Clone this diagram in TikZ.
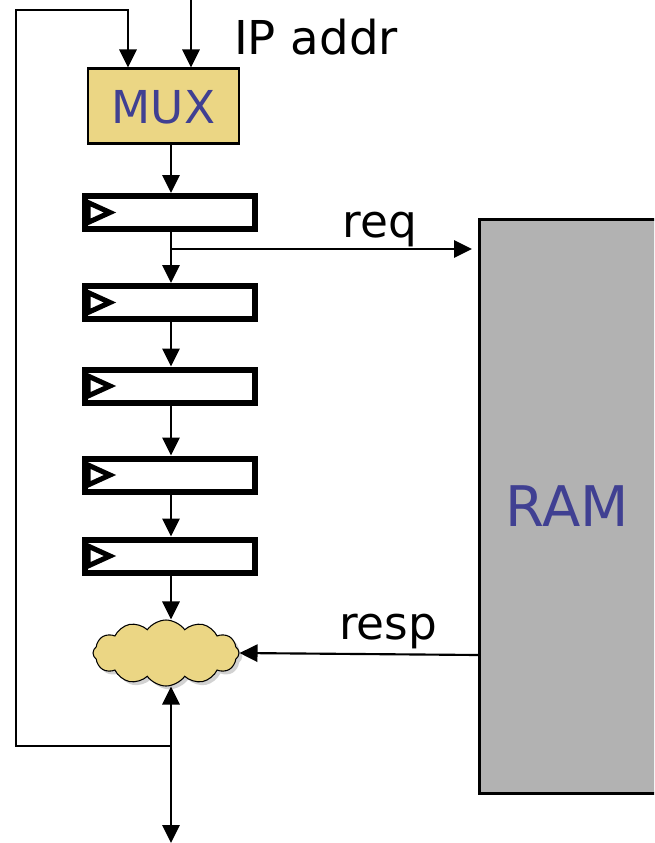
\documentclass[tikz,border=0pt]{standalone}
\usepackage{fontspec}
\setmainfont{DejaVu Sans}
\usetikzlibrary{arrows.meta,shapes.symbols,shadows}
\definecolor{muxfill}{RGB}{235,214,132}
\definecolor{txtblue}{RGB}{64,64,146}
\definecolor{ramfill}{RGB}{178,178,178}
\tikzset{
  tip/.tip={Triangle[length=13.5pt,width=13pt]},
  conn/.style={line width=1.6pt,-tip},
  regbox/.style={draw,line width=4.5pt,fill=white,minimum width=127.5pt,minimum height=24.75pt,inner sep=0pt},
  clk/.style={line width=3.8pt,line join=miter},
  lbl/.style={font=\fontsize{34}{40}\selectfont,anchor=base,inner sep=0pt}
}
\begin{document}
\begin{tikzpicture}[x=0.75pt,y=-0.75pt]
\clip (0,0) rectangle (654,843);
\fill[white] (0,0) rectangle (654,843);
% MUX
\node[draw,line width=1.6pt,fill=muxfill,minimum width=113.25pt,minimum height=56.25pt,inner sep=0pt] (mux) at (163.5,106) {};
\node[lbl,text=txtblue] (muxt) at (163.5,123) {MUX};
% IP addr
\node[lbl,font=\fontsize{35}{40}\selectfont] (ip) at (316,54) {IP addr};
\coordinate (iptop) at (191,0);
\coordinate (fbtl) at (16,10);
\coordinate (fbtr) at (128,10);
\coordinate (fbbl) at (16,746);
\coordinate (fbbr) at (171,746);
% registers
\foreach \i/\y in {1/212.5,2/302.5,3/386,4/475,5/556}{
  \node[regbox] (r\i) at (170,\y) {};
  \draw[clk] (88,\y-10) -- (110,\y) -- (88,\y+10) -- cycle;
}
% RAM
\node[draw,line width=2.2pt,fill=ramfill,minimum width=139.5pt,minimum height=430.5pt,inner sep=0pt,anchor=north west] (ram) at (478,218) {};
\node[font=\fontsize{42}{48}\selectfont,text=txtblue,anchor=base,inner sep=0pt] (ramt) at (567,526) {RAM};
% cloud
\node[cloud,draw,line width=0.8pt,fill=muxfill,cloud puffs=12,cloud puff arc=110,aspect=2.3,minimum width=109.5pt,minimum height=49.5pt,inner sep=0pt,drop shadow={shadow xshift=2.5pt,shadow yshift=-2.5pt,fill=gray!70}] (cl) at (166,653) {};
% connectors
\draw[conn] (fbbr) -- (fbbl) -- (fbtl) -- (fbtr) -- (mux.north -| fbtr);
\draw[conn] (iptop) -- (mux.north -| iptop);
\draw[conn] (mux.south -| 171,0) -- (r1.north -| 171,0);
\draw[conn] (r1.south -| 171,0) -- (r2.north -| 171,0);
\draw[conn] (r2.south -| 171,0) -- (r3.north -| 171,0);
\draw[conn] (r3.south -| 171,0) -- (r4.north -| 171,0);
\draw[conn] (r4.south -| 171,0) -- (r5.north -| 171,0);
\draw[conn] (r5.south -| 171,0) -- (cl.north -| 171,0);
\coordinate (reqs) at (171,249);
\draw[conn,shorten >=4.5pt] (reqs) -- (ram.west |- reqs);
\node[lbl] (req) at (380,237) {req};
\coordinate (resps) at (478,655);
\draw[conn] (ram.west |- resps) -- (cl.east);
\node[lbl] (resp) at (388,639) {resp};
\coordinate (outb) at (171,843);
\draw[conn,tip-tip] (cl.south -| 171,0) -- (outb);
\end{tikzpicture}
\end{document}
